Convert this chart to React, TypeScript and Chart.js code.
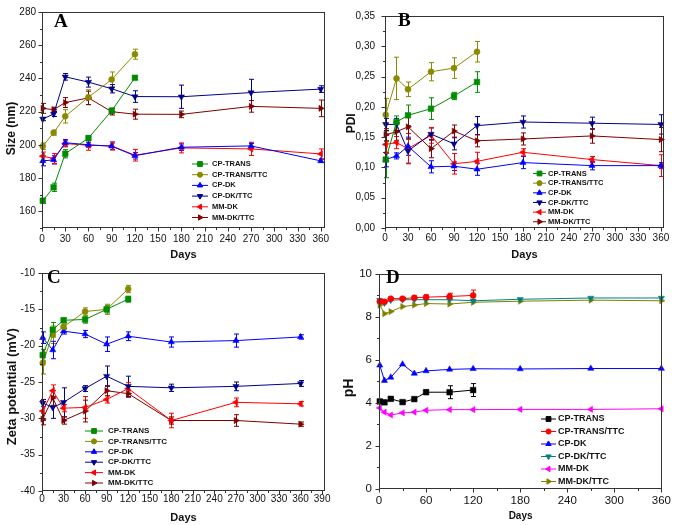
import React, { useEffect, useRef } from "react";
import { Chart, registerables } from "chart.js";
import { drawPoint } from "chart.js/helpers";

Chart.register(...registerables);

const FONT = '"Liberation Sans", Arial, Helvetica, sans-serif';
const SERIF = '"Liberation Serif", "Times New Roman", serif';

const SERIES_NAMES = ["CP-TRANS", "CP-TRANS/TTC", "CP-DK", "CP-DK/TTC", "MM-DK", "MM-DK/TTC"];

const DAYS_ABC = [1, 15, 30, 60, 90, 120, 180, 270, 360];
const DAYS_D = [1, 7, 15, 30, 45, 60, 90, 120, 180, 270, 360];

// ---- Panel A: size (nm)
const A_CP_TRANS = [166.4, 174.5, 194.7, 204.1, 220.6, 240.4];
const A_CP_TRANS_ERR = [1.5, 2.5, 2.5, 1.5, 1.5, 1];
const A_CP_TRANS_TTC = [199.2, 207.4, 217.2, 228.7, 239.4, 254.6];
const A_CP_TRANS_TTC_ERR = [2, 1.5, 4, 4.5, 4.5, 3];
const A_CP_DK = [190.4, 191, 201.3, 200.1, 199.2, 193.5, 198.6, 199.4, 190.4];
const A_CP_DK_ERR = [3, 2.5, 2, 1.5, 2, 2, 2, 1.5, 1];
const A_CP_DK_TTC = [215.6, 218.6, 241, 237.8, 233.8, 229.1, 229, 231.5, 233.6];
const A_CP_DK_TTC_ERR = [1, 1.5, 2, 3, 2.5, 3.5, 7, 8, 2];
const A_MM_DK = [193.2, 191.8, 200.8, 199.8, 199.4, 193.8, 198.2, 197.6, 194.6];
const A_MM_DK_ERR = [2.5, 3, 2, 3, 2.5, 3.5, 3, 4, 3];
const A_MM_DK_TTC = [222, 221.2, 225.5, 228.3, 220, 218.5, 218.4, 223.2, 222];
const A_MM_DK_TTC_ERR = [3, 1.5, 3, 4, 2, 3, 2, 3.5, 5];

// ---- Panel B: PDI
const B_CP_TRANS = [0.113, 0.175, 0.186, 0.197, 0.218, 0.241];
const B_CP_TRANS_ERR = [0.03, 0.01, 0.017, 0.018, 0.006, 0.017];
const B_CP_TRANS_TTC = [0.187, 0.247, 0.229, 0.258, 0.264, 0.291];
const B_CP_TRANS_TTC_ERR = [0.027, 0.035, 0.012, 0.015, 0.017, 0.017];
const B_CP_DK = [0.113, 0.119, 0.135, 0.101, 0.102, 0.097, 0.108, 0.103, 0.103];
const B_CP_DK_ERR = [0.012, 0.005, 0.015, 0.01, 0.007, 0.01, 0.01, 0.007, 0.005];
const B_CP_DK_TTC = [0.171, 0.171, 0.127, 0.155, 0.139, 0.169, 0.175, 0.173, 0.171];
const B_CP_DK_TTC_ERR = [0.01, 0.01, 0.02, 0.01, 0.01, 0.015, 0.01, 0.01, 0.016];
const B_MM_DK = [0.138, 0.141, 0.131, 0.153, 0.106, 0.11, 0.125, 0.113, 0.103];
const B_MM_DK_ERR = [0.015, 0.01, 0.025, 0.013, 0.017, 0.015, 0.006, 0.005, 0.018];
const B_MM_DK_TTC = [0.154, 0.159, 0.167, 0.131, 0.16, 0.144, 0.147, 0.152, 0.146];
const B_MM_DK_TTC_ERR = [0.01, 0.015, 0.02, 0.015, 0.01, 0.01, 0.01, 0.012, 0.02];

// ---- Panel C: zeta potential (mV)
const C_CP_TRANS = [-21.3, -17.8, -16.5, -16.4, -15, -13.6];
const C_CP_TRANS_ERR = [0.8, 1, 0.3, 0.5, 0.5, 0.4];
const C_CP_TRANS_TTC = [-22.4, -18.5, -17.4, -15.3, -15, -12.2];
const C_CP_TRANS_TTC_ERR = [1.5, 1.2, 0.4, 0.5, 0.7, 0.5];
const C_CP_DK = [-18.9, -20.6, -18, -18.4, -19.8, -18.7, -19.5, -19.3, -18.8];
const C_CP_DK_ERR = [0.8, 1.2, 0.4, 0.5, 1, 0.6, 0.7, 0.9, 0.3];
const C_CP_DK_TTC = [-27.9, -28.5, -27.8, -25.9, -24.2, -25.6, -25.8, -25.6, -25.2];
const C_CP_DK_TTC_ERR = [0.5, 1.5, 2, 0.4, 1.4, 1.4, 0.5, 0.6, 0.4];
const C_MM_DK = [-29, -26.2, -28.6, -28.5, -27.4, -25.9, -30.3, -27.8, -28];
const C_MM_DK_ERR = [1.3, 0.8, 0.5, 1.5, 0.5, 0.8, 1, 0.6, 0.3];
const C_MM_DK_TTC = [-30.1, -27.2, -30.3, -29, -26.2, -26.6, -30.3, -30.3, -30.8];
const C_MM_DK_TTC_ERR = [0.8, 1, 0.5, 1.5, 0.7, 0.5, 0.5, 0.8, 0.3];

// ---- Panel D: pH
const D_CP_TRANS = [4.07, 4.03, 4.19, 4.04, 4.18, 4.5, 4.5, 4.6];
const D_CP_TRANS_ERR = [0.05, 0.05, 0.05, 0.05, 0.05, 0.1, 0.3, 0.3];
const D_CP_TRANS_TTC = [8.72, 8.7, 8.85, 8.85, 8.89, 8.92, 8.95, 9.0];
const D_CP_TRANS_TTC_ERR = [0.05, 0.05, 0.05, 0.05, 0.08, 0.1, 0.15, 0.25];
const D_CP_DK = [5.75, 5.04, 5.19, 5.8, 5.37, 5.49, 5.56, 5.59, 5.58, 5.6, 5.6];
const D_CP_DK_ERR = [0, 0, 0, 0, 0, 0, 0, 0, 0, 0, 0];
const D_CP_DK_TTC = [8.78, 8.65, 8.78, 8.8, 8.8, 8.8, 8.8, 8.75, 8.82, 8.88, 8.88];
const D_CP_DK_TTC_ERR = [0, 0, 0, 0, 0, 0, 0, 0, 0, 0, 0];
const D_MM_DK = [3.77, 3.57, 3.44, 3.54, 3.57, 3.66, 3.69, 3.69, 3.7, 3.7, 3.73];
const D_MM_DK_ERR = [0, 0, 0, 0, 0, 0, 0, 0, 0, 0, 0];
const D_MM_DK_TTC = [8.55, 8.15, 8.25, 8.48, 8.55, 8.62, 8.6, 8.68, 8.73, 8.78, 8.75];
const D_MM_DK_TTC_ERR = [0, 0, 0, 0, 0, 0, 0, 0, 0, 0, 0];

// ---- Ticks
const X_TICKS_AB = [0, 30, 60, 90, 120, 150, 180, 210, 240, 270, 300, 330, 360];
const X_TICKS_C = [0, 30, 60, 90, 120, 150, 180, 210, 240, 270, 300, 330, 360, 390];
const X_TICKS_D = [0, 60, 120, 180, 240, 300, 360];
const Y_TICKS_A = [160, 180, 200, 220, 240, 260, 280];
const Y_TICKS_B = [0, 0.05, 0.1, 0.15, 0.2, 0.25, 0.3, 0.35];
const Y_TICK_LABELS_B = ["0,00", "0,05", "0,10", "0,15", "0,20", "0,25", "0,30", "0,35"];
const Y_TICKS_C = [-40, -35, -30, -25, -20, -15, -10];
const Y_TICKS_D = [0, 2, 4, 6, 8, 10];

const COLORS_ABC = ["#008c00", "#8a8a00", "#0000ff", "#00008b", "#ff0000", "#800000"];
const COLORS_D = ["#000000", "#ff0000", "#0000ff", "#008080", "#ff00ff", "#808000"];

const MARKERS = [
  { style: "rect", rotation: 0, radius: 4 },
  { style: "circle", rotation: 0, radius: 3 },
  { style: "triangle", rotation: 0, radius: 3.6 },
  { style: "triangle", rotation: 180, radius: 3.6 },
  { style: "triangle", rotation: 270, radius: 3.6 },
  { style: "triangle", rotation: 90, radius: 3.6 },
];

type Series = { name: string; days: number[]; values: number[]; errors: number[]; color: string; marker: number };

function makeSeries(days: number[], vals: number[][], errs: number[][], colors: string[]): Series[] {
  return SERIES_NAMES.map((name, i) => ({
    name,
    days: days.slice(0, vals[i].length),
    values: vals[i],
    errors: errs[i],
    color: colors[i],
    marker: i,
  }));
}

type Panel = {
  box: { left: number; top: number; width: number; height: number };
  area: { left: number; right: number; top: number; bottom: number };
  xMin: number; xMax: number; xTicks: number[]; xMinor: number; xLabelPad: number;
  xTitle: string; xTitleSize: number; xTitlePad: number;
  yMin: number; yMax: number; yTicks: number[]; yLabels: string[]; yMinor: number; yLabelPad: number;
  yTitle: string; yTitleSize: number; yTitleX: number; yTitleY: number;
  tickSize: number;
  letter: string; letterX: number; letterY: number;
  legend: { x0: number; x1: number; mx: number; tx: number; y0: number; dy: number; size: number };
  series: Series[];
};

const PANELS: Panel[] = [
  {
    box: { left: 0, top: 0, width: 336, height: 260 },
    area: { left: 42, right: 325, top: 6, bottom: 228 },
    xMin: 0, xMax: 365.5, xTicks: X_TICKS_AB, xMinor: 15, xLabelPad: 5,
    xTitle: "Days", xTitleSize: 11, xTitlePad: 0,
    yMin: 150, yMax: 280, yTicks: Y_TICKS_A, yLabels: Y_TICKS_A.map(String), yMinor: 10, yLabelPad: 6,
    yTitle: "Size (nm)", yTitleSize: 12, yTitleX: 12, yTitleY: 128.5,
    tickSize: 10,
    letter: "A", letterX: 54, letterY: 27,
    legend: { x0: 192, x1: 208, mx: 200, tx: 212, y0: 164, dy: 10.7, size: 7.5 },
    series: makeSeries(
      DAYS_ABC,
      [A_CP_TRANS, A_CP_TRANS_TTC, A_CP_DK, A_CP_DK_TTC, A_MM_DK, A_MM_DK_TTC],
      [A_CP_TRANS_ERR, A_CP_TRANS_TTC_ERR, A_CP_DK_ERR, A_CP_DK_TTC_ERR, A_MM_DK_ERR, A_MM_DK_TTC_ERR],
      COLORS_ABC
    ),
  },
  {
    box: { left: 336, top: 0, width: 340, height: 260 },
    area: { left: 49, right: 328, top: 6, bottom: 228 },
    xMin: 0, xMax: 364, xTicks: X_TICKS_AB, xMinor: 15, xLabelPad: 4,
    xTitle: "Days", xTitleSize: 11, xTitlePad: 0,
    yMin: 0, yMax: 0.35, yTicks: Y_TICKS_B, yLabels: Y_TICK_LABELS_B, yMinor: 0.025, yLabelPad: 10,
    yTitle: "PDI", yTitleSize: 12, yTitleX: 15.7, yTitleY: 123.3,
    tickSize: 10,
    letter: "B", letterX: 62, letterY: 26,
    legend: { x0: 197, x1: 210, mx: 203.5, tx: 212, y0: 173.5, dy: 9.65, size: 7.5 },
    series: makeSeries(
      DAYS_ABC,
      [B_CP_TRANS, B_CP_TRANS_TTC, B_CP_DK, B_CP_DK_TTC, B_MM_DK, B_MM_DK_TTC],
      [B_CP_TRANS_ERR, B_CP_TRANS_TTC_ERR, B_CP_DK_ERR, B_CP_DK_TTC_ERR, B_MM_DK_ERR, B_MM_DK_TTC_ERR],
      COLORS_ABC
    ),
  },
  {
    box: { left: 0, top: 260, width: 336, height: 265 },
    area: { left: 42, right: 325, top: 6, bottom: 231 },
    xMin: 0, xMax: 394, xTicks: X_TICKS_C, xMinor: 15, xLabelPad: 2.5,
    xTitle: "Days", xTitleSize: 11, xTitlePad: 1.8,
    yMin: -40, yMax: -10, yTicks: Y_TICKS_C, yLabels: Y_TICKS_C.map(String), yMinor: 2.5, yLabelPad: 7,
    yTitle: "Zeta potential (mV)", yTitleSize: 13, yTitleX: 12, yTitleY: 126.7,
    tickSize: 10,
    letter: "C", letterX: 47, letterY: 23,
    legend: { x0: 85, x1: 103, mx: 94, tx: 108, y0: 171, dy: 10.4, size: 8 },
    series: makeSeries(
      DAYS_ABC,
      [C_CP_TRANS, C_CP_TRANS_TTC, C_CP_DK, C_CP_DK_TTC, C_MM_DK, C_MM_DK_TTC],
      [C_CP_TRANS_ERR, C_CP_TRANS_TTC_ERR, C_CP_DK_ERR, C_CP_DK_TTC_ERR, C_MM_DK_ERR, C_MM_DK_TTC_ERR],
      COLORS_ABC
    ),
  },
  {
    box: { left: 336, top: 260, width: 340, height: 265 },
    area: { left: 43, right: 328, top: 6, bottom: 229 },
    xMin: 0, xMax: 361, xTicks: X_TICKS_D, xMinor: 30, xLabelPad: 5,
    xTitle: "Days", xTitleSize: 10, xTitlePad: 3.3,
    yMin: 0, yMax: 10, yTicks: Y_TICKS_D, yLabels: Y_TICKS_D.map(String), yMinor: 1, yLabelPad: 7,
    yTitle: "pH", yTitleSize: 14, yTitleX: 13.3, yTitleY: 128,
    tickSize: 11.5,
    letter: "D", letterX: 50, letterY: 23,
    legend: { x0: 205, x1: 220, mx: 212.5, tx: 222, y0: 159, dy: 12.5, size: 9 },
    series: makeSeries(
      DAYS_D,
      [D_CP_TRANS, D_CP_TRANS_TTC, D_CP_DK, D_CP_DK_TTC, D_MM_DK, D_MM_DK_TTC],
      [D_CP_TRANS_ERR, D_CP_TRANS_TTC_ERR, D_CP_DK_ERR, D_CP_DK_TTC_ERR, D_MM_DK_ERR, D_MM_DK_TTC_ERR],
      COLORS_D
    ),
  },
];

function makeDecorPlugin(p: Panel) {
  return {
    id: "decor",
    beforeDatasetsDraw(chart: any) {
      const ctx = chart.ctx;
      const xs = chart.scales.x;
      const ys = chart.scales.y;
      ctx.save();
      ctx.lineWidth = 1;
      p.series.forEach((s) => {
        ctx.strokeStyle = s.color;
        s.values.forEach((v, j) => {
          const e = s.errors[j] || 0;
          if (e <= 0) return;
          const x = Math.round(xs.getPixelForValue(s.days[j])) + 0.5;
          const yt = ys.getPixelForValue(v + e);
          const yb = ys.getPixelForValue(v - e);
          ctx.beginPath();
          ctx.moveTo(x, yt);
          ctx.lineTo(x, yb);
          ctx.moveTo(x - 2.5, yt);
          ctx.lineTo(x + 2.5, yt);
          ctx.moveTo(x - 2.5, yb);
          ctx.lineTo(x + 2.5, yb);
          ctx.stroke();
        });
      });
      ctx.restore();
    },
    afterDraw(chart: any) {
      const ctx = chart.ctx;
      const a = chart.chartArea;
      const xs = chart.scales.x;
      const ys = chart.scales.y;
      ctx.save();
      // frame
      ctx.strokeStyle = "#333";
      ctx.lineWidth = 1;
      const L = Math.round(a.left) + 0.5, R = Math.round(a.right) - 0.5;
      const T = Math.round(a.top) + 0.5, B = Math.round(a.bottom) - 0.5;
      ctx.strokeRect(L, T, R - L, B - T);
      // ticks
      ctx.beginPath();
      for (let v = p.xMin; v <= p.xMax + 1e-9; v += p.xMinor) {
        const major = p.xTicks.some((t) => Math.abs(t - v) < 1e-6);
        const x = Math.round(xs.getPixelForValue(v)) + 0.5;
        ctx.moveTo(x, B);
        ctx.lineTo(x, B + (major ? 4 : 2.5));
      }
      const nY = Math.round((p.yMax - p.yMin) / p.yMinor);
      for (let k = 0; k <= nY; k++) {
        const v = p.yMin + k * p.yMinor;
        const major = p.yTicks.some((t) => Math.abs(t - v) < 1e-6);
        const y = Math.round(ys.getPixelForValue(v)) + 0.5;
        ctx.moveTo(L, y);
        ctx.lineTo(L - (major ? 4 : 2.5), y);
      }
      ctx.stroke();
      // y title
      ctx.save();
      ctx.translate(p.yTitleX, p.yTitleY);
      ctx.rotate(-Math.PI / 2);
      ctx.fillStyle = "#111";
      ctx.font = `bold ${p.yTitleSize}px ${FONT}`;
      ctx.textAlign = "center";
      ctx.textBaseline = "middle";
      ctx.fillText(p.yTitle, 0, 0);
      ctx.restore();
      // panel letter
      ctx.fillStyle = "#000";
      ctx.font = `bold 19px ${SERIF}`;
      ctx.textAlign = "left";
      ctx.textBaseline = "alphabetic";
      ctx.fillText(p.letter, p.letterX, p.letterY);
      // legend
      const lg = p.legend;
      p.series.forEach((s, i) => {
        const y = lg.y0 + i * lg.dy;
        const m = MARKERS[s.marker];
        ctx.strokeStyle = s.color;
        ctx.fillStyle = s.color;
        ctx.lineWidth = 1;
        ctx.beginPath();
        ctx.moveTo(lg.x0, y);
        ctx.lineTo(lg.x1, y);
        ctx.stroke();
        drawPoint(ctx, { pointStyle: m.style, rotation: m.rotation, radius: m.radius * 0.85, borderWidth: 0.5 } as any, lg.mx, y);
        ctx.fillStyle = "#111";
        ctx.font = `bold ${lg.size}px ${FONT}`;
        ctx.textAlign = "left";
        ctx.textBaseline = "middle";
        ctx.fillText(s.name, lg.tx, y);
      });
      ctx.restore();
    },
  };
}

function buildConfig(p: Panel): any {
  const datasets = p.series.map((s) => {
    const m = MARKERS[s.marker];
    return {
      label: s.name,
      data: s.days.map((d, j) => ({ x: d, y: s.values[j] })),
      borderColor: s.color,
      backgroundColor: s.color,
      pointBackgroundColor: s.color,
      pointBorderColor: s.color,
      pointBorderWidth: 0.5,
      borderWidth: 1,
      pointRadius: m.radius,
      pointHoverRadius: m.radius,
      pointStyle: m.style,
      pointRotation: m.rotation,
      tension: 0,
      fill: false,
      clip: false,
    };
  });
  const W = p.box.width;
  const H = p.box.height;
  return {
    type: "line",
    data: { datasets },
    plugins: [makeDecorPlugin(p)],
    options: {
      responsive: false,
      animation: false,
      devicePixelRatio: 1,
      layout: { padding: { left: 0, top: p.area.top, right: W - p.area.right, bottom: 0 } },
      plugins: { legend: { display: false }, tooltip: { enabled: false } },
      scales: {
        x: {
          type: "linear",
          position: "bottom",
          min: p.xMin,
          max: p.xMax,
          afterBuildTicks: (sc: any) => {
            sc.ticks = p.xTicks.map((v) => ({ value: v }));
          },
          afterFit: (sc: any) => {
            sc.height = H - p.area.bottom;
          },
          grid: { display: false, drawTicks: false },
          border: { display: false },
          ticks: {
            autoSkip: false,
            maxRotation: 0,
            padding: p.xLabelPad,
            color: "#111",
            font: { family: FONT, size: p.tickSize },
            callback: (v: number) => String(v),
          },
          title: {
            display: true,
            text: p.xTitle,
            color: "#111",
            font: { family: FONT, size: p.xTitleSize, weight: "bold", lineHeight: 1 },
            padding: { top: 0, bottom: p.xTitlePad },
          },
        },
        y: {
          type: "linear",
          min: p.yMin,
          max: p.yMax,
          afterBuildTicks: (sc: any) => {
            sc.ticks = p.yTicks.map((v) => ({ value: v }));
          },
          afterFit: (sc: any) => {
            sc.width = p.area.left;
          },
          grid: { display: false, drawTicks: false },
          border: { display: false },
          ticks: {
            autoSkip: false,
            padding: p.yLabelPad,
            color: "#111",
            font: { family: FONT, size: p.tickSize },
            callback: (_v: number, i: number) => p.yLabels[i],
          },
        },
      },
    },
  };
}

function PanelChart({ panel }: { panel: Panel }) {
  const ref = useRef<HTMLCanvasElement>(null);
  useEffect(() => {
    const chart = new Chart(ref.current as HTMLCanvasElement, buildConfig(panel));
    return () => chart.destroy();
  }, [panel]);
  const b = panel.box;
  return (
    <canvas
      ref={ref}
      width={b.width}
      height={b.height}
      style={{ position: "absolute", left: b.left, top: b.top, width: b.width, height: b.height, display: "block" }}
    />
  );
}

export default function App() {
  return (
    <div style={{ position: "fixed", left: 0, top: 0, width: 676, height: 525, background: "#fff", overflow: "hidden" }}>
      {PANELS.map((p, i) => (
        <PanelChart key={i} panel={p} />
      ))}
    </div>
  );
}
